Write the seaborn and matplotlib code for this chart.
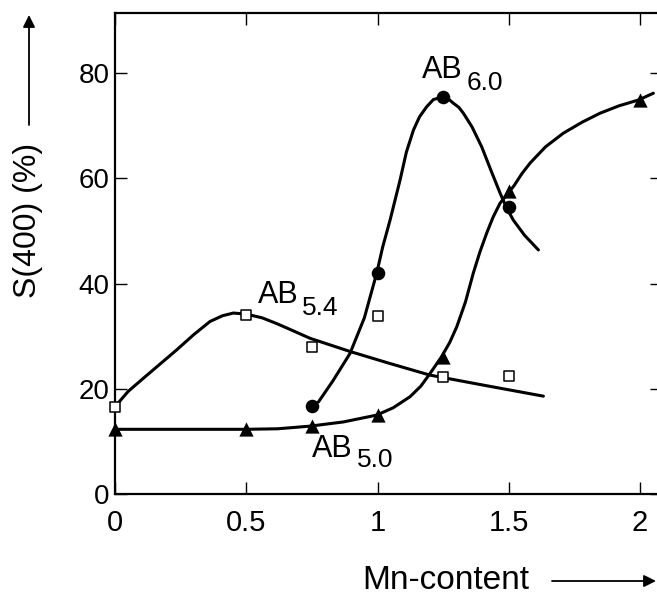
import matplotlib
matplotlib.use("Agg")
import matplotlib.pyplot as plt
from matplotlib.patches import FancyArrowPatch
import seaborn as sns

# ---- measured data points ----
tri_x = [0.0, 0.5, 0.75, 1.0, 1.25, 1.5, 2.0]
tri_y = [12.3, 12.3, 12.9, 15.0, 26.1, 57.6, 75.0]

circ_x = [0.75, 1.0, 1.25, 1.5]
circ_y = [16.7, 42.1, 75.4, 54.5]

sq_x = [0.0, 0.5, 0.75, 1.0, 1.25, 1.5]
sq_y = [16.5, 34.1, 28.0, 33.9, 22.3, 22.5]

# ---- hand-drawn guide curves ----
c50_x = [0.0, 0.5, 0.62, 0.743, 0.87, 0.997, 1.06, 1.124, 1.165, 1.2, 1.244, 1.275,
         1.302, 1.335, 1.365, 1.39, 1.416, 1.44, 1.467, 1.52, 1.55, 1.581, 1.64,
         1.708, 1.78, 1.848, 1.92, 1.994, 2.051]
c50_y = [12.3, 12.3, 12.4, 12.9, 13.7, 15.0, 16.4, 18.5, 20.5, 22.9, 26.1, 28.8,
         31.8, 36.5, 42.0, 46.0, 49.6, 52.6, 55.3, 58.6, 60.9, 62.9, 66.0,
         68.6, 70.7, 72.4, 73.8, 74.9, 76.2]

c60_x = [0.775, 0.83, 0.895, 0.95, 0.997, 1.02, 1.048, 1.086, 1.11, 1.137, 1.16,
         1.187, 1.213, 1.244, 1.27, 1.289, 1.31, 1.327, 1.36, 1.397, 1.43, 1.467,
         1.49, 1.517, 1.56, 1.613]
c60_y = [17.5, 21.5, 26.7, 33.5, 42.0, 47.0, 52.1, 59.7, 65.0, 69.2, 71.7,
         73.6, 75.0, 75.4, 75.1, 74.3, 73.5, 72.4, 69.8, 66.0, 61.8, 57.2,
         54.6, 52.1, 49.2, 46.4]

c54_x = [0.0, 0.05, 0.108, 0.235, 0.30, 0.362, 0.41, 0.451, 0.50, 0.56, 0.616,
         0.68, 0.743, 0.895, 1.048, 1.2, 1.403, 1.632]
c54_y = [16.6, 19.5, 22.0, 27.4, 30.3, 32.8, 33.9, 34.4, 34.2, 33.5, 32.4,
         31.0, 29.6, 27.1, 24.8, 22.6, 20.7, 18.6]

x_ticks = [0, 0.5, 1, 1.5, 2]
x_ticklabels = ["0", "0.5", "1", "1.5", "2"]
y_ticks = [0, 20, 40, 60, 80]
y_ticklabels = ["0", "20", "40", "60", "80"]

sns.set_style("ticks")
plt.rcParams["font.family"] = ["Liberation Sans", "DejaVu Sans"]
plt.rcParams["text.color"] = "black"
plt.rcParams["axes.labelcolor"] = "black"
plt.rcParams["xtick.color"] = "black"
plt.rcParams["ytick.color"] = "black"

W, H = 657, 597
fig = plt.figure(figsize=(W / 100, H / 100), dpi=100)
x0, x1 = 115, 661.5
ytop, ybot = 13, 494
ax = fig.add_axes([x0 / W, (H - ybot) / H, (x1 - x0) / W, (ybot - ytop) / H])
ax.set_xlim(0, (x1 - x0) / 262.5)
ax.set_ylim(0, (ybot - ytop) / 5.26)

lw = 2.2
for cx, cy in [(c50_x, c50_y), (c60_x, c60_y), (c54_x, c54_y)]:
    sns.lineplot(x=cx, y=cy, sort=False, estimator=None, color="black",
                 linewidth=lw, ax=ax, zorder=2)

sns.scatterplot(x=tri_x, y=tri_y, marker="^", s=105, color="black",
                edgecolor="black", linewidth=0, ax=ax, zorder=4, clip_on=False)
sns.scatterplot(x=circ_x, y=circ_y, marker="o", s=95, color="black",
                edgecolor="black", linewidth=0, ax=ax, zorder=4, clip_on=False)
sns.scatterplot(x=sq_x, y=sq_y, marker="s", s=55, color="white",
                edgecolor="black", linewidth=1.1, ax=ax, zorder=5, clip_on=False)

ax.set_xticks(x_ticks)
ax.set_xticklabels(x_ticklabels)
ax.set_yticks(y_ticks)
ax.set_yticklabels(y_ticklabels)
ax.tick_params(axis="both", direction="in", length=8.5, width=1.0,
               top=True, right=True, colors="black")
ax.tick_params(axis="x", labelsize=21, pad=11)
ax.tick_params(axis="y", labelsize=20, pad=4)
for side in ["left", "bottom", "top"]:
    ax.spines[side].set_linewidth(1.6)
    ax.spines[side].set_color("black")
ax.spines["right"].set_visible(False)
ax.set_xlabel("")
ax.set_ylabel("")

# curve labels
def label(xm, ym, xs, ys, sub):
    ax.text(xm, ym, "AB", fontsize=22, ha="left", va="baseline")
    ax.text(xs, ys, sub, fontsize=19, ha="left", va="baseline")

label(0.545, 36.3, 0.712, 34.0, "5.4")
label(1.168, 79.1, 1.340, 76.9, "6.0")
label(0.750, 7.1, 0.921, 5.2, "5.0")

# axis titles with arrows
fig.text(28 / W, 1 - 220 / H, "S(400) (%)", rotation=90, fontsize=23,
         ha="center", va="center")
fig.text(362 / W, 1 - 589 / H, "Mn-content", fontsize=24, ha="left", va="baseline")

def arrow(p0, p1):
    a = FancyArrowPatch((p0[0] / W, 1 - p0[1] / H), (p1[0] / W, 1 - p1[1] / H),
                        transform=fig.transFigure, arrowstyle="-|>",
                        mutation_scale=18, lw=1.3, color="black",
                        shrinkA=0, shrinkB=0)
    fig.add_artist(a)

arrow((29, 125), (29, 15))
arrow((552, 581), (656, 581))

fig.savefig("out.png", dpi=100)
